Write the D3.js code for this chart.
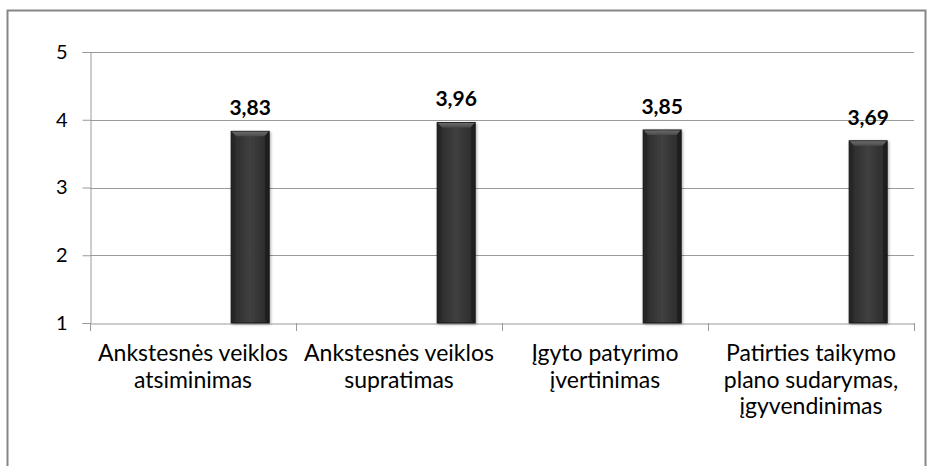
<!DOCTYPE html>
<html><head><meta charset="utf-8">
<script src="https://cdn.jsdelivr.net/npm/d3@7"></script>
<style>html,body{margin:0;padding:0;background:#fff;}svg{display:block;}</style>
</head><body>
<svg id="c" width="927" height="466"></svg>
<script>
const categories = [
  ["Ankstesnės veiklos", "atsiminimas"],
  ["Ankstesnės veiklos", "supratimas"],
  ["Įgyto patyrimo", "įvertinimas"],
  ["Patirties taikymo", "plano sudarymas,", "įgyvendinimas"]
];
const values = [3.83, 3.96, 3.85, 3.69];
const valueLabels = ["3,83", "3,96", "3,85", "3,69"];
const yTicks = [1, 2, 3, 4, 5];

const FONT = "Lato, 'Open Sans', sans-serif";
const svg = d3.select("#c");
const m = {left: 90, right: 914, top: 52, bottom: 323};

// outer border
svg.append("rect").attr("x", 7.5).attr("y", 10.5).attr("width", 918).attr("height", 470)
  .attr("fill", "none").attr("stroke", "#868686").attr("stroke-width", 2);

const x = d3.scaleBand().domain(d3.range(categories.length)).range([m.left, m.right]).padding(0);
const y = d3.scaleLinear().domain([1, 5]).range([m.bottom, m.top]);

// gridlines
svg.append("g").selectAll("line").data(yTicks.filter(t => t > 1)).join("line")
  .attr("x1", m.left).attr("x2", m.right)
  .attr("y1", d => Math.round(y(d)) + 0.5).attr("y2", d => Math.round(y(d)) + 0.5)
  .attr("stroke", "#9a9a9a").attr("stroke-width", 1);

// y axis
const yAxis = svg.append("g").attr("transform", `translate(${m.left + 0.5},0)`)
  .call(d3.axisLeft(y).tickValues(yTicks).tickSize(8).tickPadding(15).tickFormat(d3.format("d")));
yAxis.select(".domain").attr("stroke", "#9a9a9a");
yAxis.selectAll(".tick line").attr("stroke", "#9a9a9a");
yAxis.selectAll(".tick text").attr("font-family", FONT).attr("font-size", 20).attr("fill", "#000");

// x axis
const xAxis = svg.append("g").attr("transform", `translate(0,${Math.round(y(1)) + 0.5})`)
  .call(d3.axisBottom(x).tickSize(0).tickFormat(""));
xAxis.select(".domain").attr("stroke", "#9a9a9a");
xAxis.selectAll(".tick").remove();
svg.append("g").selectAll("line").data(d3.range(categories.length + 1)).join("line")
  .attr("x1", i => Math.round(m.left + i * x.bandwidth()) + 0.5)
  .attr("x2", i => Math.round(m.left + i * x.bandwidth()) + 0.5)
  .attr("y1", Math.round(y(1))).attr("y2", Math.round(y(1)) + 8)
  .attr("stroke", "#9a9a9a");

// gradients
const defs = svg.append("defs");
const g1 = defs.append("linearGradient").attr("id", "barg").attr("x1", 0).attr("x2", 1).attr("y1", 0).attr("y2", 0);
[[0, "#1c1c1c"], [0.12, "#2e2e2e"], [0.5, "#404040"], [0.88, "#2e2e2e"], [1, "#161616"]]
  .forEach(([o, c]) => g1.append("stop").attr("offset", o).attr("stop-color", c));
const g2 = defs.append("linearGradient").attr("id", "topg").attr("x1", 0).attr("x2", 0).attr("y1", 0).attr("y2", 1);
[[0, "#6a6a6a"], [1, "#4a4a4a"]].forEach(([o, c]) => g2.append("stop").attr("offset", o).attr("stop-color", c));
const f = defs.append("filter").attr("id", "sh").attr("x", -0.3).attr("y", -0.1).attr("width", 1.6).attr("height", 1.2);
f.append("feGaussianBlur").attr("in", "SourceAlpha").attr("stdDeviation", 1.5);
f.append("feOffset").attr("dx", 1).attr("dy", 1).attr("result", "b");
f.append("feComponentTransfer").append("feFuncA").attr("type", "linear").attr("slope", 0.35);
const fm = f.append("feMerge"); fm.append("feMergeNode"); fm.append("feMergeNode").attr("in", "SourceGraphic");

const bw = x.bandwidth();
const barOff = bw * 0.685, barW = bw * 0.185;
const bars = svg.append("g").selectAll("g").data(values).join("g");
bars.append("rect")
  .attr("x", (d, i) => x(i) + barOff).attr("y", d => y(d))
  .attr("width", barW).attr("height", d => y(1) - y(d))
  .attr("fill", "url(#barg)").attr("stroke", "#111").attr("stroke-width", 0.8)
  .attr("filter", "url(#sh)");
// top bevel
bars.append("path").attr("d", (d, i) => {
  const x0 = x(i) + barOff, x1 = x0 + barW, t = y(d), b = 5;
  return `M${x0 + 0.5},${t + 0.5} L${x1 - 0.5},${t + 0.5} L${x1 - b},${t + b} L${x0 + b},${t + b} Z`;
}).attr("fill", "url(#topg)");
// side bevels
bars.append("path").attr("d", (d, i) => {
  const x0 = x(i) + barOff, t = y(d), bt = y(1), b = 4;
  return `M${x0 + 0.5},${t + 0.5} L${x0 + b},${t + 5} L${x0 + b},${bt - 3} L${x0 + 0.5},${bt} Z`;
}).attr("fill", "#262626");
bars.append("path").attr("d", (d, i) => {
  const x1 = x(i) + barOff + barW, t = y(d), bt = y(1), b = 4;
  return `M${x1 - 0.5},${t + 0.5} L${x1 - b},${t + 5} L${x1 - b},${bt - 3} L${x1 - 0.5},${bt} Z`;
}).attr("fill", "#1e1e1e");

// value labels
svg.append("g").selectAll("text").data(values).join("text")
  .attr("x", (d, i) => x(i) + barOff + barW / 2)
  .attr("y", d => y(d) - 16)
  .attr("text-anchor", "middle").attr("font-family", FONT).attr("font-weight", "bold")
  .attr("font-size", 21).attr("fill", "#000")
  .text((d, i) => valueLabels[i]);

// category labels
const cl = svg.append("g").selectAll("text").data(categories).join("text")
  .attr("x", (d, i) => x(i) + bw / 2).attr("y", 361)
  .attr("text-anchor", "middle").attr("font-family", FONT).attr("font-size", 23).attr("fill", "#000");
cl.selectAll("tspan").data(d => d).join("tspan")
  .attr("x", function () { return this.parentNode.getAttribute("x"); })
  .attr("dy", (d, j) => j === 0 ? 0 : 26.5)
  .text(d => d);
</script>
</body></html>
